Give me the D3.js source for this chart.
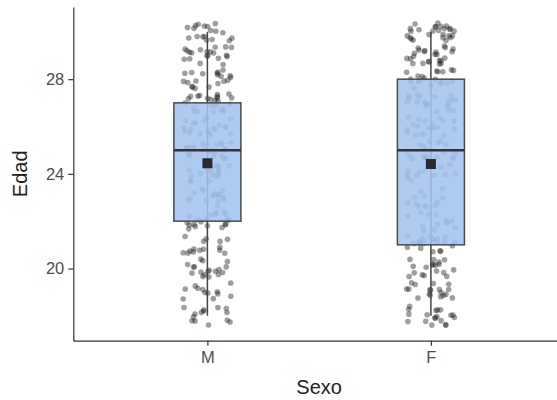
<!DOCTYPE html>
<html>
<head>
<meta charset="utf-8">
<script src="https://cdn.jsdelivr.net/npm/d3@7"></script>
<style>
  body { margin: 0; background: #fff; }
  text { font-family: "Liberation Sans", Arial, sans-serif; }
</style>
</head>
<body>
<div id="chart"></div>
<script>
// data: how many people per age for each sex
let sexes = ['M', 'F'];
let ages = [18, 19, 20, 21, 22, 23, 24, 25, 26, 27, 28, 29, 30];
let countsM = [14, 12, 18, 15, 20, 16, 18, 24, 20, 24, 20, 20, 18];
let countsF = [19, 18, 18, 20, 13, 12, 12, 18, 20, 20, 20, 24, 26];
let yTicks = [20, 24, 28];

// svg / plot area
let config = { svg: {}, plot: {} };
config.svg.width = 557;
config.svg.height = 400;
config.plot.left = 73.3;
config.plot.right = 565;   // panel runs past the right edge of the picture
config.plot.top = 7;
config.plot.bottom = 340.7;

let svg = d3.select('#chart').append('svg')
  .attr('width', config.svg.width)
  .attr('height', config.svg.height);

let x = d3.scalePoint()
  .domain(sexes)
  .range([config.plot.left, config.plot.right])
  .padding(0.6);

let y = d3.scaleLinear()
  .domain([16.95, 31.05])
  .range([config.plot.bottom, config.plot.top]);

let step = x.step();
let boxHalf = step * 0.15;

// expand the counts into one row per person
let counts = { M: countsM, F: countsF };
let rows = [];
sexes.forEach(function(s) {
  ages.forEach(function(a, i) {
    for (let k = 0; k < counts[s][i]; k++) rows.push({ sexo: s, edad: a });
  });
});

// jitter like geom_jitter (seeded so the picture is stable)
let lcg = d3.randomLcg(0.4217);
let jit = d3.randomUniform.source(lcg);
let jx = jit(-0.11, 0.11), jy = jit(-0.4, 0.4);
rows.forEach(function(d) { d.dx = jx(); d.dy = jy(); });

// points
svg.append('g')
  .selectAll('circle')
  .data(rows)
  .enter()
  .append('circle')
  .attr('cx', function(d) { return x(d.sexo) + d.dx * step; })
  .attr('cy', function(d) { return y(d.edad + d.dy); })
  .attr('r', 2.8)
  .style('fill', '#1a1a1a')
  .style('opacity', 0.42);

// box statistics
let stats = sexes.map(function(s) {
  let v = rows.filter(function(d) { return d.sexo == s; })
    .map(function(d) { return d.edad; })
    .sort(d3.ascending);
  let q1 = d3.quantile(v, 0.25), med = d3.quantile(v, 0.5), q3 = d3.quantile(v, 0.75);
  let iqr = q3 - q1;
  let lo = d3.min(v.filter(function(a) { return a >= q1 - 1.5 * iqr; }));
  let hi = d3.max(v.filter(function(a) { return a <= q3 + 1.5 * iqr; }));
  return { sexo: s, q1: q1, med: med, q3: q3, lo: lo, hi: hi, mean: d3.mean(v) };
});

let box = svg.append('g').selectAll('g')
  .data(stats)
  .enter()
  .append('g');

// whiskers
box.append('line')
  .attr('x1', function(d) { return x(d.sexo); })
  .attr('x2', function(d) { return x(d.sexo); })
  .attr('y1', function(d) { return y(d.lo); })
  .attr('y2', function(d) { return y(d.hi); })
  .style('stroke', '#444')
  .style('stroke-width', 1.5);

box.append('rect')
  .attr('x', function(d) { return x(d.sexo) - boxHalf; })
  .attr('width', boxHalf * 2)
  .attr('y', function(d) { return y(d.q3); })
  .attr('height', function(d) { return y(d.q1) - y(d.q3); })
  .style('fill', '#a4c4f0')
  .style('fill-opacity', 0.88)
  .style('stroke', '#4a4a4a')
  .style('stroke-width', 1.5);

// median
box.append('line')
  .attr('x1', function(d) { return x(d.sexo) - boxHalf; })
  .attr('x2', function(d) { return x(d.sexo) + boxHalf; })
  .attr('y1', function(d) { return y(d.med); })
  .attr('y2', function(d) { return y(d.med); })
  .style('stroke', '#333')
  .style('stroke-width', 2.5);

// mean
box.append('rect')
  .attr('x', function(d) { return x(d.sexo) - 5; })
  .attr('y', function(d) { return y(d.mean) - 5; })
  .attr('width', 10)
  .attr('height', 10)
  .style('fill', '#2b2b2b');

// axes
let yAxis = svg.append('g')
  .attr('transform', 'translate(' + config.plot.left + ',0)')
  .call(d3.axisLeft(y).tickValues(yTicks).tickSize(5).tickPadding(4).tickSizeOuter(0));
let xAxis = svg.append('g')
  .attr('transform', 'translate(0,' + config.plot.bottom + ')')
  .call(d3.axisBottom(x).tickSize(5).tickPadding(6).tickSizeOuter(0));

[yAxis, xAxis].forEach(function(a) {
  a.select('.domain').style('stroke', '#333').style('stroke-width', 1.2);
  a.selectAll('.tick line').style('stroke', '#333').style('stroke-width', 1.2);
  a.selectAll('.tick text')
    .style('font-size', '16.5px')
    .style('fill', '#4d4d4d')
    .style('font-family', '"Liberation Sans", Arial, sans-serif');
});

// axis titles
svg.append('text')
  .attr('x', (config.plot.left + config.svg.width) / 2 + 4)
  .attr('y', 394)
  .style('text-anchor', 'middle')
  .style('font-size', '20px')
  .style('fill', '#222')
  .text('Sexo');

svg.append('text')
  .attr('transform', 'translate(27,' + y(24) + ') rotate(-90)')
  .style('text-anchor', 'middle')
  .style('font-size', '20px')
  .style('fill', '#222')
  .text('Edad');
</script>
</body>
</html>
